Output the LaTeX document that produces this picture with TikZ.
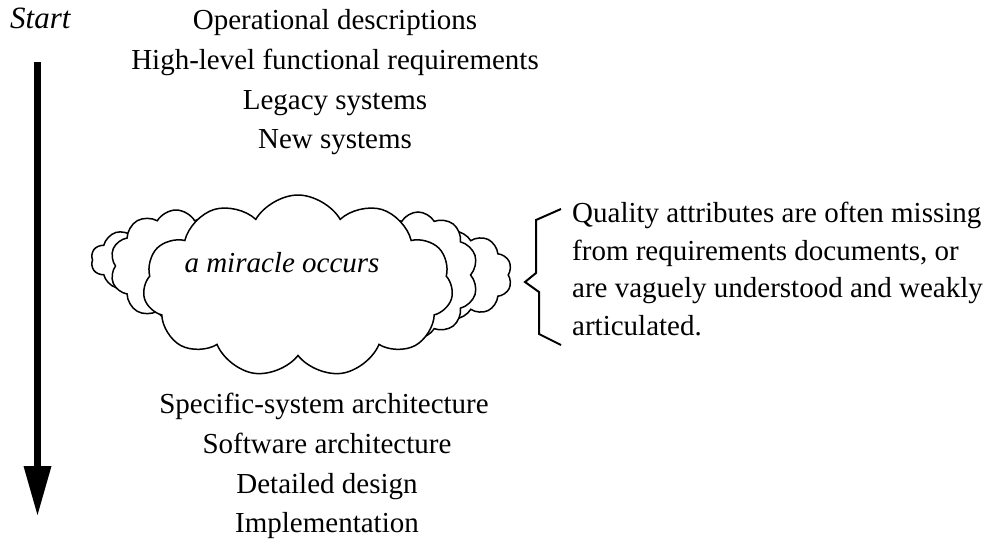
\documentclass[tikz,border=0pt]{standalone}
\usepackage{fontspec}
\setmainfont{Liberation Serif}
\usetikzlibrary{shapes.symbols}
\begin{document}
\begin{tikzpicture}[x=1pt,y=-1pt,
  lbl/.style={font=\fontsize{29}{35}\selectfont, inner sep=0pt, anchor=base},
  note/.style={font=\fontsize{29}{35}\selectfont, inner sep=0pt, anchor=base west},
  cloudy/.style={cloud, draw, fill=white, line width=1.5pt, cloud ignores aspect, inner sep=0pt},
  bracepath/.style={line width=2pt, line join=miter},
  flow/.style={line width=7.5pt}]
\useasboundingbox (0,0) rectangle (983,541);
% start label and flow arrow
\node[note, font=\fontsize{31}{35}\selectfont\itshape] (start) at (10,28) {Start};
\coordinate (atop) at (37.5,62);
\coordinate (abase) at (37.5,466);
\coordinate (atip) at (37.5,515);
\draw[flow] (atop) -- (abase);
\fill ([xshift=-14pt]abase) -- ([xshift=14pt]abase) -- (atip) -- cycle;
% top inputs
\node[lbl] (op) at (335,29) {Operational descriptions};
\node[lbl] (hl) at (335,69) {High-level functional requirements};
\node[lbl] (ls) at (335,109) {Legacy systems};
\node[lbl] (ns) at (335,148) {New systems};
% clouds: back layer, middle layer, front
\node[cloudy, cloud puffs=10, cloud puff arc=120, minimum width=120pt, minimum height=68pt] (backl) at (151,260) {};
\node[cloudy, cloud puffs=10, cloud puff arc=120, minimum width=116pt, minimum height=88pt] (backr) at (454,275) {};
\node[cloudy, cloud puffs=10, cloud puff arc=120, minimum width=132pt, minimum height=112pt] (midl) at (176,266) {};
\node[cloudy, cloud puffs=10, cloud puff arc=120, minimum width=120pt, minimum height=126pt] (midr) at (418,275) {};
\node[cloudy, cloud puffs=11, cloud puff arc=120, minimum width=310pt, minimum height=182pt] (front) at (298,286) {};
\node[lbl, font=\fontsize{29}{35}\selectfont\itshape] (miracle) at (282,272) {a miracle occurs};
% bottom outputs
\node[lbl] (sa) at (324,413) {Specific-system architecture};
\node[lbl] (sw) at (327,453) {Software architecture};
\node[lbl] (dd) at (327,493) {Detailed design};
\node[lbl] (im) at (327,532) {Implementation};
% brace and note
\coordinate (b1) at (561,209);
\coordinate (b2) at (536,220);
\coordinate (b3) at (536,273);
\coordinate (b4) at (525,282);
\coordinate (b5) at (539,292);
\coordinate (b6) at (539,334);
\coordinate (b7) at (561,345);
\draw[bracepath] (b1) -- (b2) -- (b3) -- (b4) -- (b5) -- (b6) -- (b7);
\node[note] (q1) at (572,222) {Quality attributes are often missing};
\node[note] (q2) at (572,260) {from requirements documents, or};
\node[note] (q3) at (572,297) {are vaguely understood and weakly};
\node[note] (q4) at (572,335) {articulated.};
\end{tikzpicture}
\end{document}
